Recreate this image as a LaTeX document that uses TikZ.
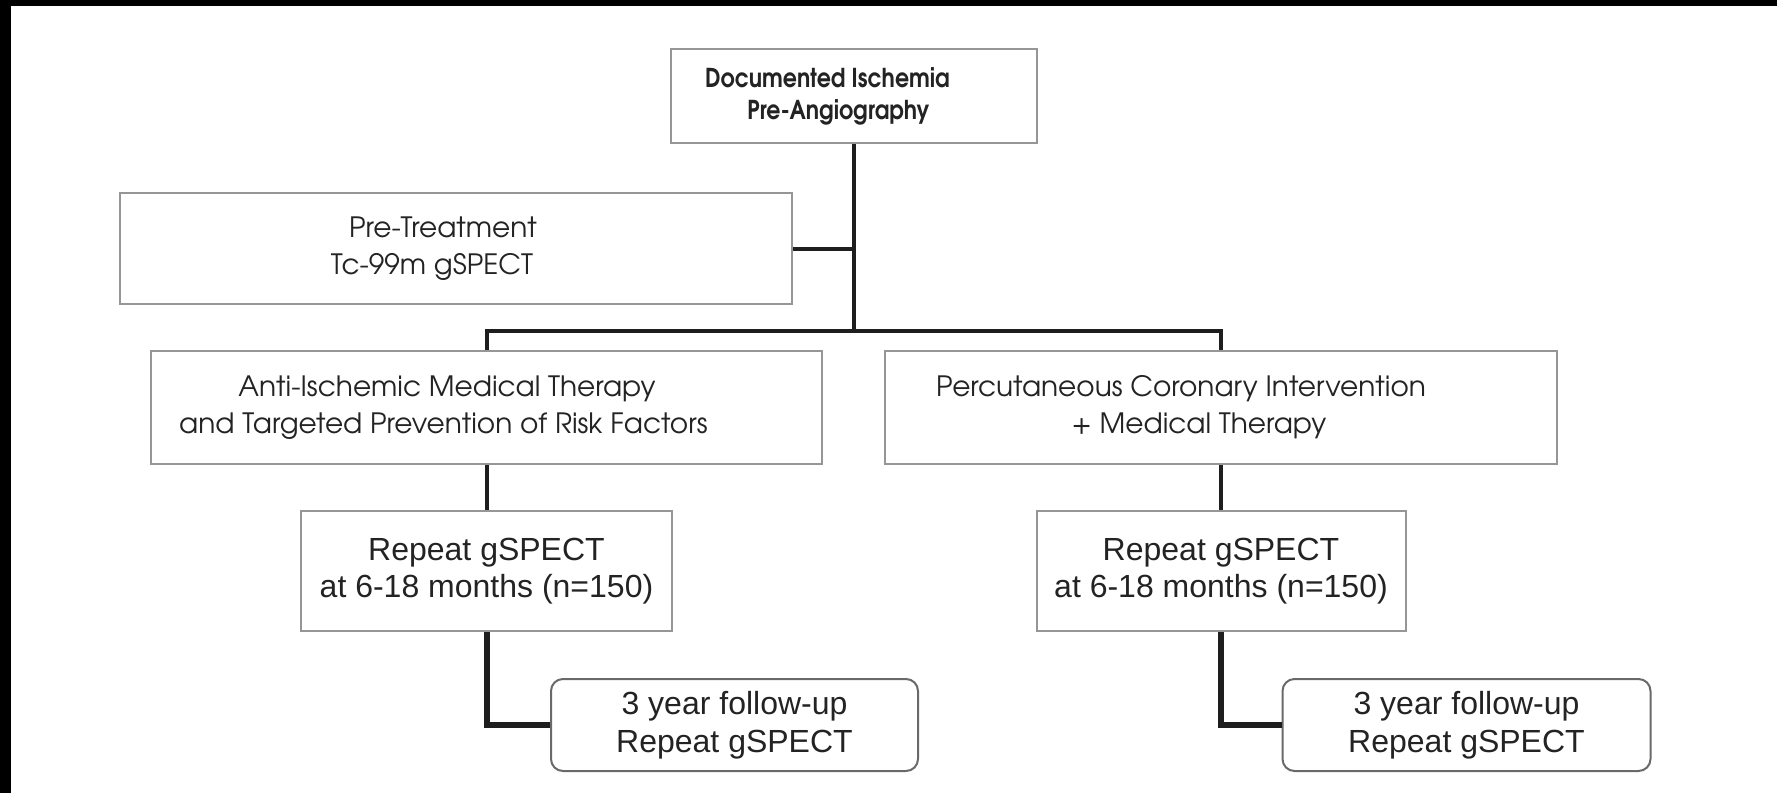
\documentclass[tikz,border=0pt]{standalone}
\usepackage{fontspec}
\setmainfont{Liberation Sans}
\newfontfamily\gothic{TeX Gyre Adventor}
\newfontfamily\gothichead[FakeStretch=0.85]{TeX Gyre Adventor}
\definecolor{boxgray}{RGB}{150,150,150}
\definecolor{roundgray}{RGB}{105,105,105}
\definecolor{linkblack}{RGB}{30,30,30}
\definecolor{inkgray}{RGB}{35,35,35}

\begin{document}
\begin{tikzpicture}[
    x=1pt,y=-1pt,
    every node/.style={text=inkgray},
    plainbox/.style={rectangle,draw=boxgray,line width=2pt,fill=white,align=center,inner sep=0pt},
    headbox/.style={plainbox,font=\gothichead\bfseries\fontsize{26}{32}\selectfont},
    gothicbox/.style={plainbox,font=\gothic\fontsize{28}{37}\selectfont},
    repeatbox/.style={plainbox,font=\fontsize{32}{37}\selectfont},
    followbox/.style={plainbox,draw=roundgray,rounded corners=12pt,font=\fontsize{32}{38}\selectfont},
    link/.style={draw=linkblack,line width=4pt},
    heavylink/.style={draw=linkblack,line width=6pt}
    ]

  \fill[white] (0,0) rectangle (1777,793);
  \fill[black] (0,0) rectangle (1777,6);
  \fill[black] (0,0) rectangle (11,793);
  \useasboundingbox (0,0) rectangle (1777,793);

  \node (doc) [headbox,minimum width=366pt,minimum height=94pt] at (854,96)
    {Documented Ischemia\hspace*{53pt}\\Pre-Angiography\hspace*{31pt}};

  \node (pre) [gothicbox,minimum width=672pt,minimum height=111pt] at (456,248.5)
    {Pre-Treatment\hspace*{26pt}\\Tc-99m gSPECT\hspace*{48pt}};

  \node (anti) [gothicbox,minimum width=671pt,minimum height=113pt] at (486.5,407.5)
    {Anti-Ischemic Medical Therapy\hspace*{79pt}\\and Targeted Prevention of Risk Factors\hspace*{86pt}};
  \node (pci) [gothicbox,minimum width=672pt,minimum height=113pt] at (1221,407.5)
    {Percutaneous Coronary Intervention\hspace*{80pt}\\+ Medical Therapy\hspace*{44pt}};

  \node (rep1) [repeatbox,minimum width=371pt,minimum height=120pt] at (486.5,571)
    {Repeat gSPECT\\at 6-18 months (n=150)};
  \node (rep2) [repeatbox,minimum width=369pt,minimum height=120pt] at (1221,571)
    {Repeat gSPECT\\at 6-18 months (n=150)};

  \node (fu1) [followbox,minimum width=367pt,minimum height=92pt] at (734.5,725)
    {3 year follow-up\\Repeat gSPECT};
  \node (fu2) [followbox,minimum width=368pt,minimum height=92pt] at (1466.5,725)
    {3 year follow-up\\Repeat gSPECT};

  \coordinate (split) at (854,331);

  \draw[link] (doc.south) -- (split);
  \draw[link] (pre.east) -- (pre.east -| split);
  \draw[link] (anti.north) |- (split) -| (pci.north);
  \draw[link] (anti.south) -- (rep1.north);
  \draw[link] (pci.south) -- (rep2.north);
  \draw[heavylink] (rep1.south) |- (fu1.west);
  \draw[heavylink] (rep2.south) |- (fu2.west);

\end{tikzpicture}
\end{document}
